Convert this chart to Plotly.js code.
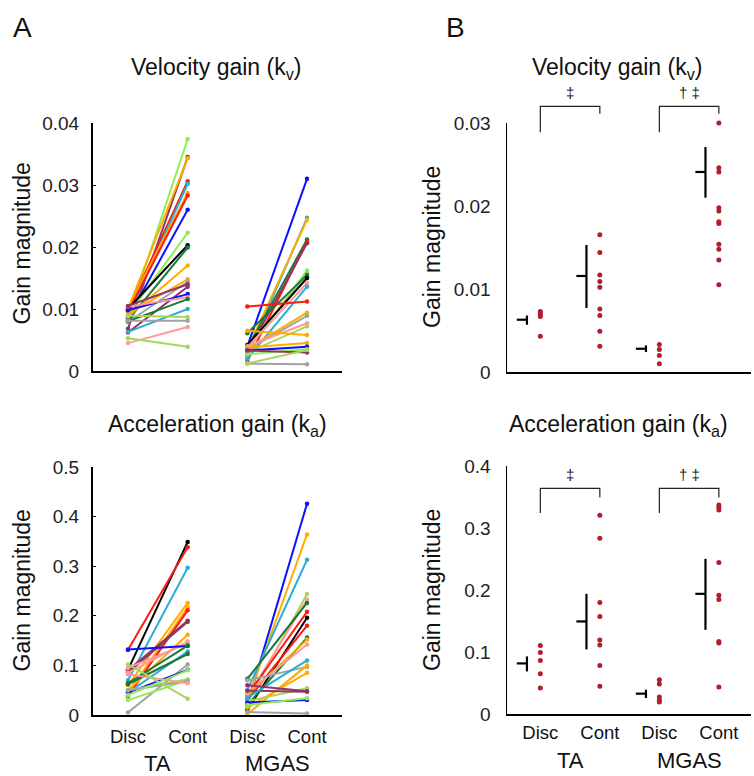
<!DOCTYPE html>
<html><head><meta charset="utf-8">
<script src="https://cdn.plot.ly/plotly-3.0.1.min.js"></script>
<style>html,body{margin:0;padding:0;background:#fff}#chart{width:754px;height:776px}</style>
</head><body><div id="chart"></div>
<script>
// ---------- categories / labels ----------
const categories = ['Disc', 'Cont', 'Disc', 'Cont'];
const catX = [1, 2, 3, 4];
const muscles = ['TA', 'MGAS'];
const muscleX = [1.5, 3.5];

// ---------- Panel A: individual subjects (Disc -> Cont) ----------
// Velocity gain kv, TA
const taVelDisc = [0.0085, 0.0068, 0.0100, 0.0098, 0.0088, 0.0102, 0.0095, 0.0085, 0.0090, 0.0100, 0.0082, 0.0088, 0.0092, 0.0079, 0.0062, 0.0098, 0.0104, 0.0080, 0.0063, 0.0089, 0.0081, 0.0045, 0.0053, 0.0105];
const taVelCont = [0.0374, 0.0345, 0.0343, 0.0306, 0.0302, 0.0287, 0.0283, 0.0260, 0.0223, 0.0203, 0.0199, 0.0170, 0.0148, 0.0144, 0.0136, 0.0124, 0.0119, 0.0116, 0.0100, 0.0087, 0.0081, 0.0071, 0.0039, 0.0140];
const taVelColors = ['lgreen', 'maroon', 'orange', 'red', 'teal', 'orange', 'red', 'blue', 'lgreen', 'black', 'dgreen', 'orange', 'orange', 'gray', 'maroon', 'blue', 'pink', 'dgreen', 'teal', 'ygreen', 'gray', 'pink', 'ygreen', 'maroon'];
// Velocity gain kv, MGAS
const mgVelDisc = [0.0040, 0.0025, 0.0035, 0.0037, 0.0016, 0.0030, 0.0033, 0.0036, 0.0061, 0.0042, 0.0038, 0.0020, 0.0104, 0.0036, 0.0034, 0.0040, 0.0030, 0.0065, 0.0038, 0.0033, 0.0027, 0.0033, 0.0012, 0.0012];
const mgVelCont = [0.0310, 0.0247, 0.0244, 0.0212, 0.0209, 0.0206, 0.0162, 0.0158, 0.0155, 0.0150, 0.0142, 0.0136, 0.0112, 0.0094, 0.0089, 0.0077, 0.0072, 0.0058, 0.0045, 0.0039, 0.0035, 0.0030, 0.0011, 0.0034];
const mgVelColors = ['blue', 'teal', 'orange', 'dgreen', 'red', 'maroon', 'lgreen', 'ygreen', 'dgreen', 'black', 'pink', 'teal', 'red', 'orange', 'gray', 'pink', 'ygreen', 'orange', 'orange', 'blue', 'lgreen', 'maroon', 'gray', 'ygreen'];
// Acceleration gain ka, TA
const taAccDisc = [0.091, 0.131, 0.070, 0.060, 0.045, 0.038, 0.090, 0.085, 0.050, 0.085, 0.095, 0.132, 0.064, 0.045, 0.062, 0.005, 0.045, 0.030, 0.050, 0.050, 0.082, 0.102, 0.040];
const taAccCont = [0.349, 0.338, 0.297, 0.226, 0.217, 0.211, 0.190, 0.188, 0.162, 0.148, 0.144, 0.139, 0.140, 0.128, 0.123, 0.102, 0.091, 0.070, 0.072, 0.068, 0.064, 0.033, 0.090];
const taAccColors = ['black', 'red', 'teal', 'orange', 'orange', 'red', 'maroon', 'maroon', 'orange', 'pink', 'pink', 'blue', 'dgreen', 'teal', 'dgreen', 'gray', 'blue', 'lgreen', 'ygreen', 'gray', 'pink', 'ygreen', 'lgreen'];
// Acceleration gain ka, MGAS
const mgAccDisc = [0.020, 0.030, 0.050, 0.025, 0.035, 0.073, 0.040, 0.010, 0.030, 0.020, 0.040, 0.045, 0.070, 0.002, 0.015, 0.028, 0.049, 0.025, 0.020, 0.006, 0.035, 0.060];
const mgAccCont = [0.426, 0.364, 0.313, 0.244, 0.233, 0.226, 0.208, 0.196, 0.180, 0.156, 0.152, 0.142, 0.097, 0.100, 0.085, 0.054, 0.047, 0.030, 0.034, 0.003, 0.110, 0.048];
const mgAccColors = ['blue', 'orange', 'teal', 'ygreen', 'pink', 'dgreen', 'red', 'black', 'red', 'dgreen', 'orange', 'pink', 'gray', 'orange', 'orange', 'ygreen', 'maroon', 'blue', 'lgreen', 'gray', 'teal', 'maroon'];

// ---------- Panel B: group values ----------
const velTADisc = [0.0073, 0.0071, 0.0069, 0.0067, 0.0043];
const velTACont = [0.0302, 0.01655, 0.0144, 0.0117, 0.0109, 0.0102, 0.0076, 0.0068, 0.0049, 0.0031];
const velMGDisc = [0.0033, 0.0027, 0.0020, 0.0010];
const velMGCont = [0.0300, 0.0246, 0.0241, 0.0198, 0.0194, 0.0181, 0.0179, 0.0154, 0.0148, 0.0135, 0.0105];
const velMean = [0.0063, 0.01157, 0.0028, 0.0241];
const velLo = [0.0057, 0.0077, 0.0024, 0.0210];
const velHi = [0.0068, 0.0153, 0.0032, 0.0271];

const accTADisc = [0.1106, 0.0993, 0.0864, 0.0650, 0.0419];
const accTACont = [0.3205, 0.2835, 0.1799, 0.1573, 0.1192, 0.1111, 0.0784, 0.0446];
const accMGDisc = [0.0553, 0.0483, 0.0274, 0.0220, 0.0193];
const accMGCont = [0.3372, 0.3334, 0.3291, 0.2443, 0.1917, 0.1847, 0.1170, 0.1144, 0.0435];
const accMean = [0.0816, 0.1493, 0.0328, 0.1938];
const accLo = [0.0687, 0.1042, 0.0258, 0.1358];
const accHi = [0.0929, 0.1938, 0.0392, 0.2502];

// significance brackets
const sigLabels = ['\u2021', '\u2020 \u2021'];
const velBracket = {top: 0.0320, left: 0.0289, right: 0.0311, label: 0.0337};
const accBracket = {top: 0.364, left: 0.324, right: 0.349, label: 0.387};

// ---------- styles ----------
const palette = {
  blue: '#0a12ff', red: '#ff1a10', black: '#000000', dgreen: '#16783a',
  lgreen: '#8eec5a', ygreen: '#a8d65c', orange: '#ffab00', teal: '#2aaed6',
  maroon: '#8e3463', pink: '#ff9a9c', gray: '#a2a2a2'
};
const dotColor = '#b01e2e';
const FONT = 'Liberation Sans, Arial, Helvetica, sans-serif';
const W = 754, H = 776;

const ax = {
  A1: {xd: [93 / W, 342 / W], yd: [1 - 371 / H, 1 - 123 / H], xr: [0.414, 4.586], yr: [0, 0.04]},
  A2: {xd: [93 / W, 342 / W], yd: [1 - 715 / H, 1 - 467 / H], xr: [0.414, 4.586], yr: [0, 0.5]},
  B1: {xd: [507 / W, 751 / W], yd: [1 - 372 / H, 1 - 123 / H], xr: [0.44, 4.54], yr: [0, 0.03]},
  B2: {xd: [507 / W, 751 / W], yd: [1 - 714 / H, 1 - 466 / H], xr: [0.44, 4.54], yr: [0, 0.4]}
};
function toPX(a, v) { return a.xd[0] + (v - a.xr[0]) / (a.xr[1] - a.xr[0]) * (a.xd[1] - a.xd[0]); }
function toPY(a, v) { return a.yd[0] + (v - a.yr[0]) / (a.yr[1] - a.yr[0]) * (a.yd[1] - a.yd[0]); }

const traces = [];
function addSubjects(disc, cont, colors, xd, xc, xa, ya) {
  for (let i = 0; i < disc.length; i++) {
    const c = palette[colors[i]];
    traces.push({
      type: 'scatter', mode: 'lines+markers', x: [xd, xc], y: [disc[i], cont[i]],
      xaxis: xa, yaxis: ya, line: {color: c, width: 2}, marker: {color: c, size: 4.5},
      cliponaxis: false, showlegend: false, hoverinfo: 'y'
    });
  }
}
addSubjects(taVelDisc, taVelCont, taVelColors, catX[0], catX[1], 'x', 'y');
addSubjects(mgVelDisc, mgVelCont, mgVelColors, catX[2], catX[3], 'x', 'y');
addSubjects(taAccDisc, taAccCont, taAccColors, catX[0], catX[1], 'x2', 'y2');
addSubjects(mgAccDisc, mgAccCont, mgAccColors, catX[2], catX[3], 'x2', 'y2');

const meanOffset = 0.225, capLen = 0.17;
function addGroup(groups, mean, lo, hi, xa, ya) {
  const xs = [], ys = [];
  groups.forEach((g, k) => { g.forEach(v => { xs.push(catX[k]); ys.push(v); }); });
  traces.push({type: 'scatter', mode: 'markers', x: xs, y: ys, xaxis: xa, yaxis: ya,
    marker: {color: dotColor, size: 5}, cliponaxis: false, showlegend: false});
  const bx = [], by = [];
  for (let k = 0; k < mean.length; k++) {
    const xv = catX[k] - meanOffset;
    bx.push(xv, xv, null, xv - capLen, xv, null);
    by.push(lo[k], hi[k], null, mean[k], mean[k], null);
  }
  traces.push({type: 'scatter', mode: 'lines', x: bx, y: by, xaxis: xa, yaxis: ya,
    line: {color: '#000', width: 2.2}, showlegend: false, hoverinfo: 'skip'});
}
addGroup([velTADisc, velTACont, velMGDisc, velMGCont], velMean, velLo, velHi, 'x3', 'y3');
addGroup([accTADisc, accTACont, accMGDisc, accMGCont], accMean, accLo, accHi, 'x4', 'y4');

// brackets as paper shapes computed through the axis scales
const shapes = [];
const annotations = [];
function addBrackets(a, br) {
  for (let m = 0; m < 2; m++) {
    const x0 = toPX(a, catX[2 * m]), x1 = toPX(a, catX[2 * m + 1]);
    const yt = toPY(a, br.top), yl = toPY(a, br.left), yr = toPY(a, br.right);
    shapes.push({type: 'path', xref: 'paper', yref: 'paper',
      path: `M ${x0} ${yl} L ${x0} ${yt} L ${x1} ${yt} L ${x1} ${yr}`,
      line: {color: '#222', width: 1.2}});
    annotations.push({xref: 'paper', yref: 'paper', x: toPX(a, muscleX[m]), y: toPY(a, br.label),
      text: sigLabels[m], showarrow: false, xanchor: 'center', yanchor: 'middle',
      font: {family: FONT, size: 15, color: '#222'}});
  }
}
addBrackets(ax.B1, velBracket);
addBrackets(ax.B2, accBracket);

function note(text, x, y, size, extra) {
  annotations.push(Object.assign({xref: 'paper', yref: 'paper', x: x, y: y, text: text,
    showarrow: false, xanchor: 'center', yanchor: 'middle',
    font: {family: FONT, size: size, color: '#111'}}, extra || {}));
}
note('A', 22 / W, 1 - 28 / H, 28);
note('B', 456 / W, 1 - 28 / H, 28);
note('Velocity gain (k<sub>v</sub>)', 216 / W, 1 - 68 / H, 23);
note('Velocity gain (k<sub>v</sub>)', 617 / W, 1 - 68 / H, 23);
note('Acceleration gain (k<sub>a</sub>)', 217 / W, 1 - 425 / H, 23);
note('Acceleration gain (k<sub>a</sub>)', 618 / W, 1 - 425 / H, 23);
note('Gain magnitude', 21.5 / W, 1 - 244 / H, 23, {textangle: -90});
note('Gain magnitude', 21.5 / W, 1 - 591 / H, 23, {textangle: -90});
note('Gain magnitude', 432 / W, 1 - 247 / H, 23, {textangle: -90});
note('Gain magnitude', 432 / W, 1 - 590 / H, 23, {textangle: -90});
muscles.forEach((mname, m) => {
  note(mname, toPX(ax.A2, muscleX[m]), 1 - 763 / H, 22);
  note(mname, toPX(ax.B2, muscleX[m]), 1 - 760 / H, 22);
});

function xAxis(a, anchor, lw, labels, standoff) {
  return {domain: a.xd, range: a.xr, anchor: anchor, showline: true, linecolor: '#000', linewidth: lw,
    showgrid: false, zeroline: false, ticks: '', automargin: false, fixedrange: true,
    tickmode: 'array', tickvals: labels ? catX : [], ticktext: labels ? categories : [],
    showticklabels: labels,
    ticklabelstandoff: standoff, tickfont: {family: FONT, size: 18.5, color: '#111'}};
}
function yAxis(a, anchor, lw, dtick, ticks, standoff) {
  return {domain: a.yd, range: a.yr, anchor: anchor, showline: true, linecolor: '#000', linewidth: lw,
    showgrid: false, zeroline: false, ticks: ticks, ticklen: 3, tickwidth: 1, tickcolor: '#000',
    automargin: false, fixedrange: true, tickmode: 'linear', tick0: 0, dtick: dtick,
    ticklabelstandoff: standoff, tickfont: {family: FONT, size: 19, color: '#222'}};
}

const layout = {
  width: W, height: H, margin: {l: 0, r: 0, t: 0, b: 0},
  paper_bgcolor: '#fff', plot_bgcolor: 'rgba(0,0,0,0)', showlegend: false,
  font: {family: FONT, color: '#111'},
  xaxis: xAxis(ax.A1, 'y', 2, false, 0),
  yaxis: yAxis(ax.A1, 'x', 2, 0.01, 'inside', 8),
  xaxis2: xAxis(ax.A2, 'y2', 2, true, 4),
  yaxis2: yAxis(ax.A2, 'x2', 2, 0.1, 'inside', 8),
  xaxis3: xAxis(ax.B1, 'y3', 1.5, false, 0),
  yaxis3: yAxis(ax.B1, 'x3', 1.5, 0.01, '', 11),
  xaxis4: xAxis(ax.B2, 'y4', 1.5, true, 1),
  yaxis4: yAxis(ax.B2, 'x4', 1.5, 0.1, '', 11),
  shapes: shapes, annotations: annotations
};

Plotly.newPlot('chart', traces, layout, {displayModeBar: false, staticPlot: true});
</script>
</body></html>
